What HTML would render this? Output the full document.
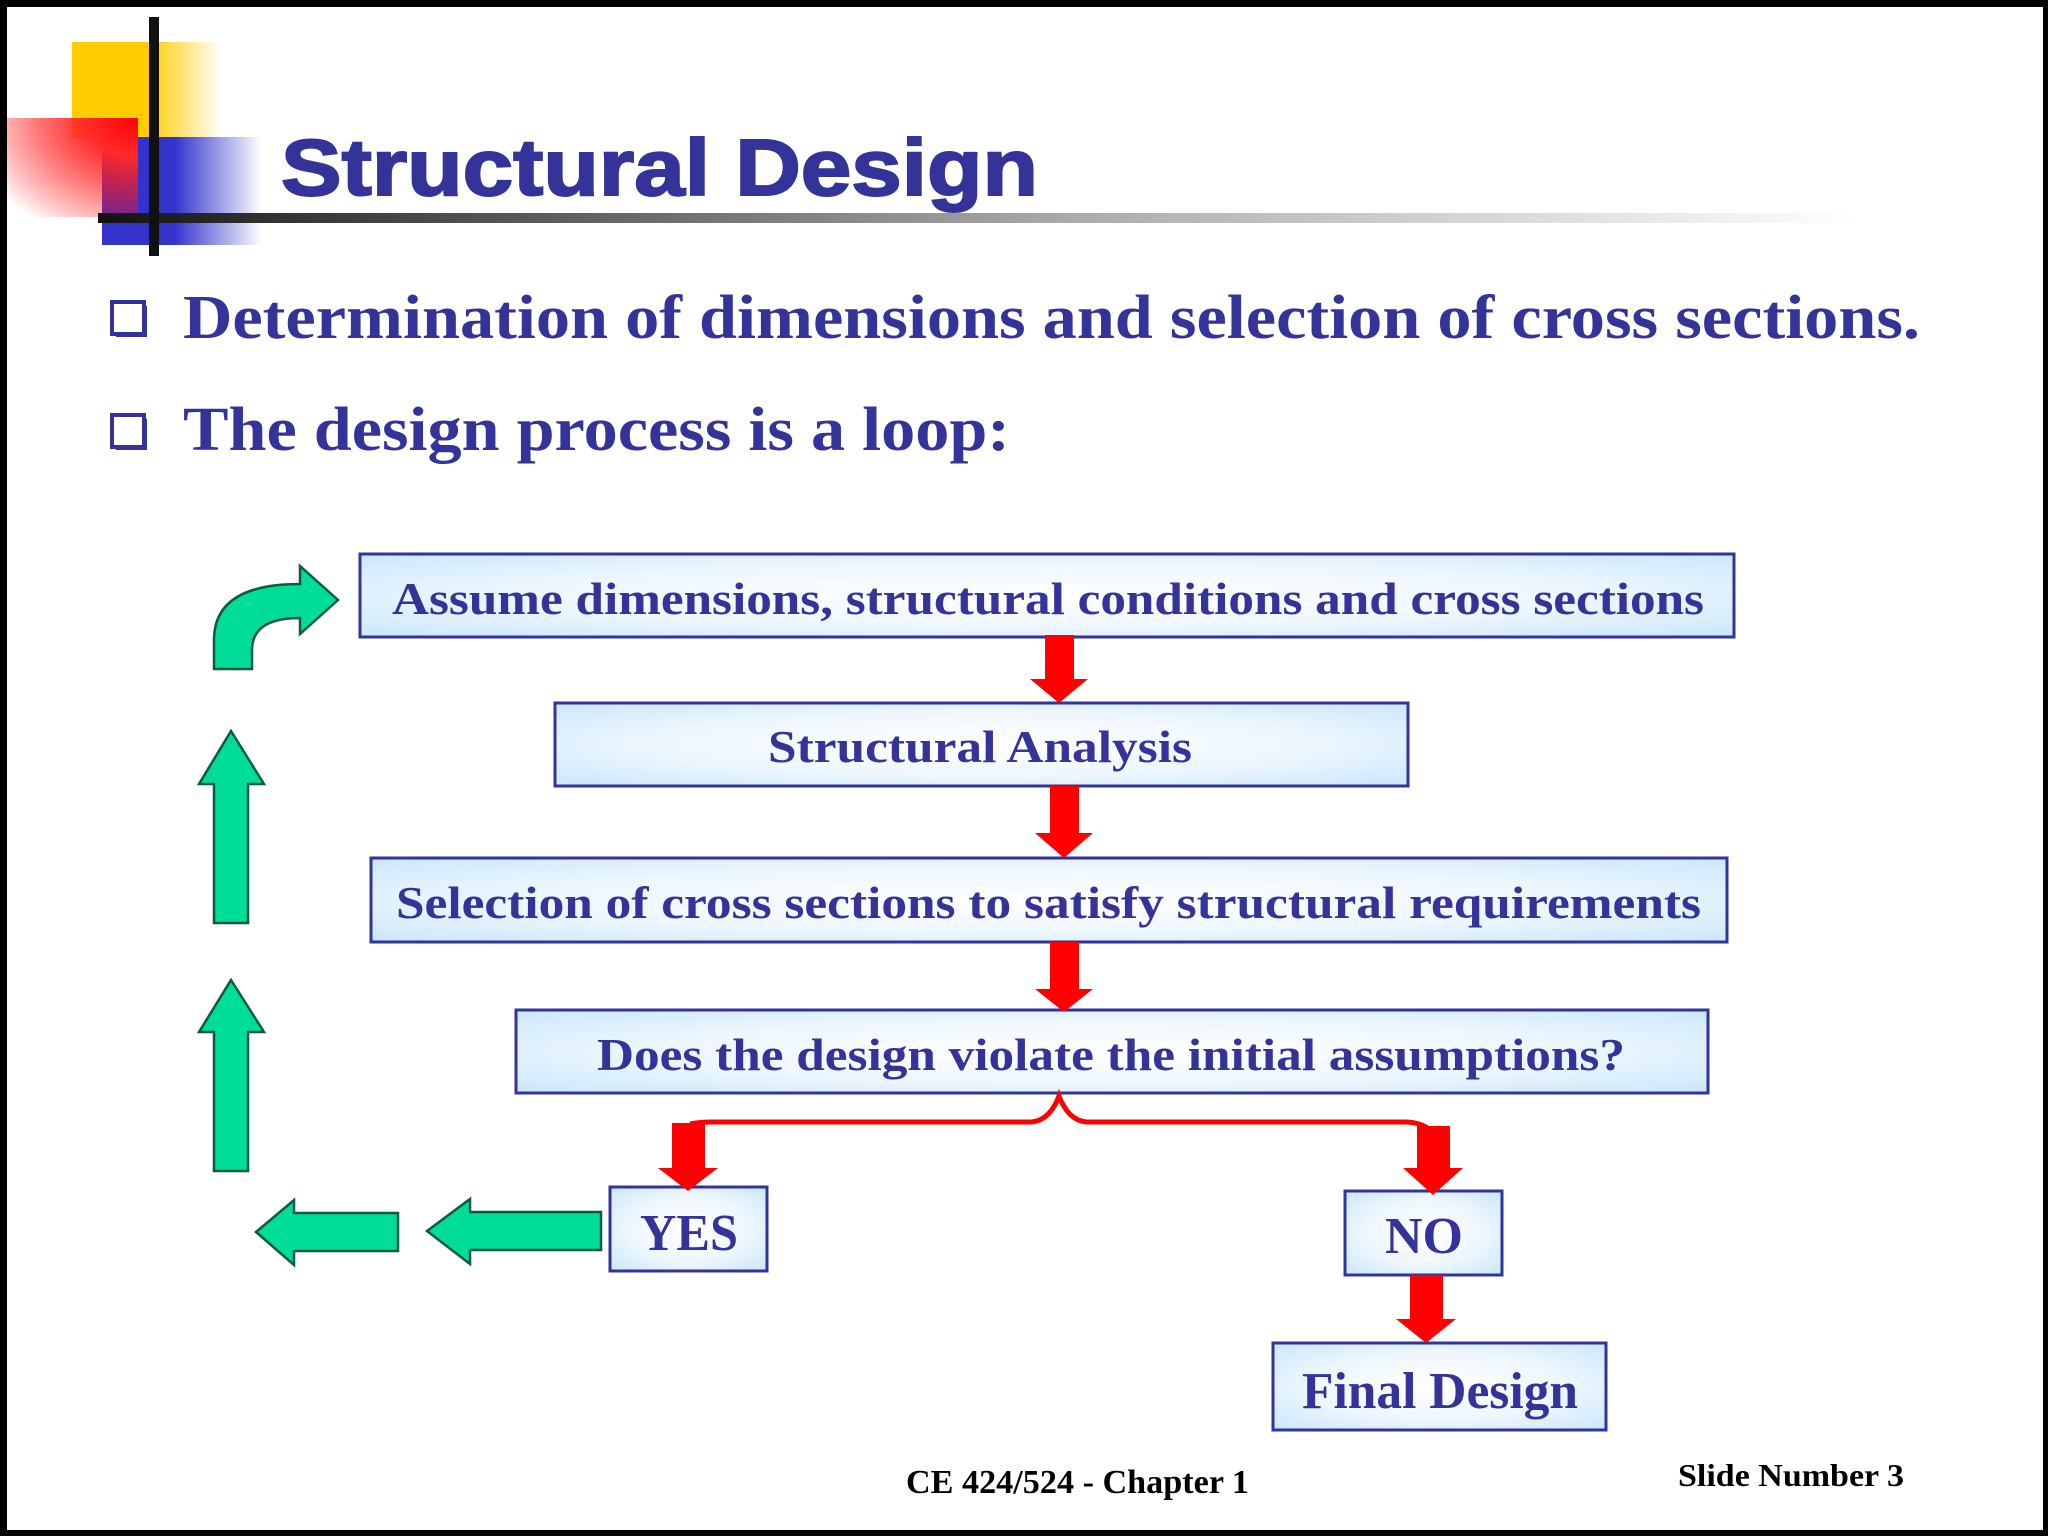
<!DOCTYPE html>
<html><head><meta charset="utf-8"><style>
html,body{margin:0;padding:0;background:#fff;}
svg{display:block;}
</style></head><body>
<svg width="2048" height="1536" viewBox="0 0 2048 1536" xmlns="http://www.w3.org/2000/svg">
<defs>
<linearGradient id="yel" x1="0" y1="0" x2="1" y2="0">
<stop offset="0" stop-color="#ffcc00"/><stop offset="0.5" stop-color="#ffcc00"/><stop offset="1" stop-color="#ffcc00" stop-opacity="0"/></linearGradient>
<linearGradient id="blu" x1="0" y1="0" x2="1" y2="0">
<stop offset="0" stop-color="#3333cc"/><stop offset="0.45" stop-color="#3333cc"/><stop offset="1" stop-color="#3333cc" stop-opacity="0"/></linearGradient>
<radialGradient id="red" cx="1" cy="0" r="1.3">
<stop offset="0" stop-color="#ff0000"/><stop offset="0.3" stop-color="#ff2a2a"/><stop offset="1" stop-color="#ff0000" stop-opacity="0"/></radialGradient>
<linearGradient id="line" x1="0" y1="0" x2="1" y2="0">
<stop offset="0" stop-color="#111"/><stop offset="0.1" stop-color="#333"/><stop offset="0.55" stop-color="#aaa"/><stop offset="1" stop-color="#fff"/></linearGradient>
<radialGradient id="box" cx="0.5" cy="0.5" r="0.75">
<stop offset="0" stop-color="#ffffff"/><stop offset="0.5" stop-color="#eef7fe"/><stop offset="1" stop-color="#c4e4fa"/></radialGradient>
</defs>
<rect x="0" y="0" width="2048" height="1536" fill="#000"/>
<rect x="7" y="7" width="2036" height="1523" fill="#fff"/>

<rect x="72" y="42" width="150" height="96" fill="url(#yel)"/>
<rect x="102" y="137" width="160" height="108" fill="url(#blu)"/>
<rect x="7" y="118" width="131" height="99" fill="url(#red)"/>
<rect x="98" y="213" width="1760" height="10" fill="url(#line)"/>
<rect x="149" y="17" width="10" height="239" fill="#111"/>

<g font-family="'Liberation Serif', serif" font-weight="bold" fill="#333399">
<text x="281" y="195" font-family="'Liberation Sans', sans-serif" font-size="80" stroke="#333399" stroke-width="2" textLength="757" lengthAdjust="spacingAndGlyphs">Structural Design</text>

<rect x="112" y="302" width="32" height="32" fill="none" stroke="#333399" stroke-width="4"/>
<rect x="116" y="332" width="30" height="5" fill="#333399"/>
<rect x="142" y="306" width="5" height="31" fill="#333399"/>
<text x="183" y="338" font-size="62" textLength="1737" lengthAdjust="spacingAndGlyphs">Determination of dimensions and selection of cross sections.</text>
<rect x="112" y="415" width="32" height="32" fill="none" stroke="#333399" stroke-width="4"/>
<rect x="116" y="445" width="30" height="5" fill="#333399"/>
<rect x="142" y="419" width="5" height="31" fill="#333399"/>
<text x="183" y="450" font-size="62" textLength="827" lengthAdjust="spacingAndGlyphs">The design process is a loop:</text>

<g stroke="#333399" stroke-width="3" fill="url(#box)">
<rect x="360" y="554" width="1374" height="83"/>
<rect x="555" y="703" width="853" height="83"/>
<rect x="371" y="858" width="1356" height="84"/>
<rect x="516" y="1010" width="1192" height="83"/>
<rect x="610" y="1187" width="157" height="84"/>
<rect x="1345" y="1191" width="157" height="84"/>
<rect x="1273" y="1343" width="333" height="87"/>
</g>
<text x="392" y="614" font-size="46" textLength="1312" lengthAdjust="spacingAndGlyphs">Assume dimensions, structural conditions and cross sections</text>
<text x="768" y="762" font-size="46" textLength="424" lengthAdjust="spacingAndGlyphs">Structural Analysis</text>
<text x="396" y="918" font-size="46" textLength="1305" lengthAdjust="spacingAndGlyphs">Selection of cross sections to satisfy structural requirements</text>
<text x="597" y="1070" font-size="46" textLength="1028" lengthAdjust="spacingAndGlyphs">Does the design violate the initial assumptions?</text>
<text x="640" y="1250" font-size="52" textLength="98" lengthAdjust="spacingAndGlyphs">YES</text>
<text x="1385" y="1253" font-size="52" textLength="78" lengthAdjust="spacingAndGlyphs">NO</text>
<text x="1302" y="1408" font-size="52" textLength="276" lengthAdjust="spacingAndGlyphs">Final Design</text>
</g>

<g fill="#ff0000">
<path d="M1045,635 h29 v44 h14 l-29,24 l-29,-24 h15 z"/>
<path d="M1050,786 h29 v47 h14 l-29,25 l-29,-25 h15 z"/>
<path d="M1050,942 h29 v47 h14 l-29,23 l-29,-23 h15 z"/>
<path d="M672,1123 h33 v45 h13 l-30,23 l-30,-23 h14 z"/>
<path d="M1417,1126 h33 v42 h13 l-30,27 l-30,-27 h14 z"/>
<path d="M1410,1275 h33 v44 h13 l-30,24 l-30,-24 h14 z"/>
</g>
<path d="M690,1124 Q700,1122 712,1122 L1032,1122 Q1050,1120 1059,1096 Q1068,1120 1086,1122 L1405,1122 Q1420,1122 1430,1130" fill="none" stroke="#ff0000" stroke-width="5"/>

<g fill="#00dd99" stroke="#0a5a44" stroke-width="2.5">
<path d="M601,1212 L470,1212 L470,1199 L427,1231 L470,1264 L470,1250 L601,1250 z"/>
<path d="M398,1213 L294,1213 L294,1200 L256,1232 L294,1265 L294,1251 L398,1251 z"/>
<path d="M214,1171 L214,1032 L199,1032 L231,980 L264,1032 L248,1032 L248,1171 z"/>
<path d="M214,923 L214,784 L199,784 L231,731 L264,784 L248,784 L248,923 z"/>
<path d="M214,669 L214,640 Q214,584 300,584 L300,566 L338,600 L300,634 L300,618 Q252,618 252,650 L252,669 z"/>
</g>

<g font-family="'Liberation Serif', serif" font-weight="bold" fill="#000">
<text x="906" y="1493" font-size="34" textLength="343" lengthAdjust="spacingAndGlyphs">CE 424/524 - Chapter 1</text>
<text x="1678" y="1486" font-size="32" textLength="226" lengthAdjust="spacingAndGlyphs">Slide Number 3</text>
</g>
</svg>
</body></html>
